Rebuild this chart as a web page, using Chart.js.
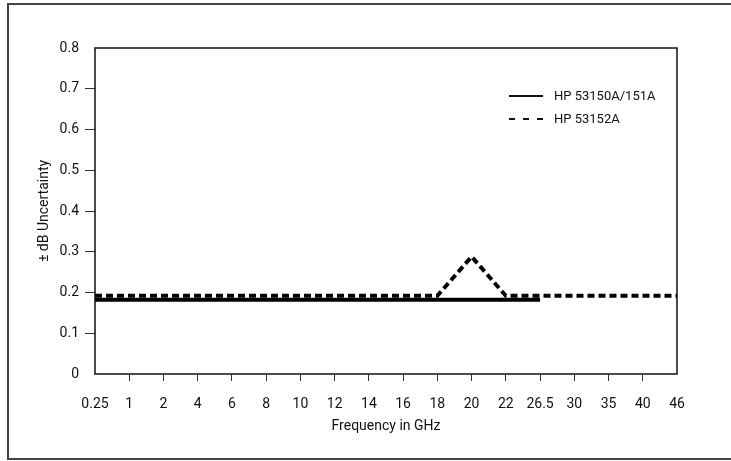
<!DOCTYPE html>
<html lang="en">
<head>
    <meta charset="UTF-8">
    <title>dB Uncertainty</title>
    <script src="https://cdn.jsdelivr.net/npm/chart.js@4.4.1/dist/chart.umd.min.js"></script>
    <style>
        html, body { margin: 0; padding: 0; background: #fff; }
        body { width: 731px; height: 461px; position: relative; overflow: hidden;
               font-family: Roboto, 'DejaVu Sans', sans-serif; }
        #frame { position: absolute; left: 7px; top: 3px; width: 800px; height: 453px;
                 border-left: 2px solid #444; border-top: 2px solid #444; border-bottom: 2px solid #444; }
        #wrap { position: absolute; left: 0; top: 0; width: 731px; height: 461px; }
        .leg { position: absolute; left: 509px; display: flex; align-items: center; font-size: 13px; color: #111; }
        .leg svg { margin-right: 11px; }
    </style>
</head>
<body>
    <div id="frame"></div>
    <div id="wrap"><canvas id="chart"></canvas></div>
    <div id="legend"></div>

    <script>
        // frequency points (equally spaced on the axis)
        const freqLabels = ['0.25', '1', '2', '4', '6', '8', '10', '12', '14', '16', '18', '20', '22', '26.5', '30', '35', '40', '46'];
        const seriesNames = ['HP 53150A/151A', 'HP 53152A'];
        // HP 53150A/151A, up to 26.5 GHz
        const hp53150 = [0.182, 0.182, 0.182, 0.182, 0.182, 0.182, 0.182, 0.182, 0.182, 0.182, 0.182, 0.182, 0.182, 0.182, null, null, null, null];
        // HP 53152A
        const hp53152 = [0.192, 0.192, 0.192, 0.192, 0.192, 0.192, 0.192, 0.192, 0.192, 0.192, 0.192, 0.288, 0.192, 0.192, 0.192, 0.192, 0.192, 0.192];
        const yTicks = [0, 0.1, 0.2, 0.3, 0.4, 0.5, 0.6, 0.7, 0.8];

        Chart.defaults.font.family = "Roboto, 'DejaVu Sans', sans-serif";
        Chart.defaults.color = '#111';

        // leyenda en html
        const dashes = ['', '6,8'];
        const legTop = [88, 111];
        seriesNames.forEach(function(nombre, i) {
            const d = document.createElement('div');
            d.className = 'leg';
            d.style.top = legTop[i] + 'px';
            d.innerHTML = '<svg width="34" height="4"><line x1="0" y1="2" x2="34" y2="2" stroke="#111" stroke-width="2" stroke-dasharray="' + dashes[i] + '"/></svg>' + nombre;
            document.getElementById('legend').appendChild(d);
        });

        // marco del area de grafica
        const marco = {
            id: 'marco',
            afterDraw(chart) {
                const a = chart.chartArea;
                const ctx = chart.ctx;
                ctx.save();
                ctx.strokeStyle = '#111';
                ctx.lineWidth = 1.5;
                ctx.strokeRect(a.left, a.top, a.right - a.left, a.bottom - a.top);
                ctx.restore();
            }
        };

        new Chart(document.getElementById('chart'), {
            type: 'line',
            data: {
                labels: freqLabels,
                datasets: [
                    {
                        label: seriesNames[0],
                        data: hp53150,
                        borderColor: '#000',
                        borderWidth: 4,
                        pointRadius: 0,
                        tension: 0,
                        spanGaps: false
                    },
                    {
                        label: seriesNames[1],
                        data: hp53152,
                        borderColor: '#000',
                        borderWidth: 4,
                        borderDash: [7, 4],
                        borderCapStyle: 'butt',
                        pointRadius: 0,
                        tension: 0
                    }
                ]
            },
            options: {
                responsive: true,
                maintainAspectRatio: false,
                animation: false,
                layout: { padding: { left: 0, top: 48, right: 54, bottom: 0 } },
                plugins: { legend: { display: false }, tooltip: { enabled: false } },
                scales: {
                    x: {
                        type: 'category',
                        offset: false,
                        afterFit: function(s) { s.height = 87; },
                        grid: {
                            drawOnChartArea: false,
                            drawTicks: true,
                            tickLength: 7,
                            color: function(c) {
                                return (c.index === 0 || c.index === freqLabels.length - 1) ? 'rgba(0,0,0,0)' : '#333';
                            }
                        },
                        border: { display: false },
                        ticks: { autoSkip: false, maxRotation: 0, padding: 15, font: { size: 14 } },
                        title: {
                            display: true,
                            text: 'Frequency in GHz',
                            font: { size: 14 },
                            padding: { top: 0, bottom: 26 }
                        }
                    },
                    y: {
                        min: 0,
                        max: 0.8,
                        afterFit: function(s) { s.width = 95; },
                        afterBuildTicks: function(s) { s.ticks = yTicks.map(function(v) { return { value: v }; }); },
                        grid: {
                            drawOnChartArea: false,
                            drawTicks: true,
                            tickLength: 10,
                            color: function(c) {
                                return (c.tick.value === 0 || c.tick.value === 0.8) ? 'rgba(0,0,0,0)' : '#333';
                            }
                        },
                        border: { display: false },
                        ticks: {
                            padding: 6,
                            font: { size: 14 },
                            callback: function(v) { return v === 0 ? '0' : v.toFixed(1); }
                        },
                        title: {
                            display: true,
                            text: '± dB Uncertainty',
                            font: { size: 14 },
                            padding: { top: 36, bottom: 0 }
                        }
                    }
                }
            },
            plugins: [marco]
        });
    </script>
</body>
</html>
